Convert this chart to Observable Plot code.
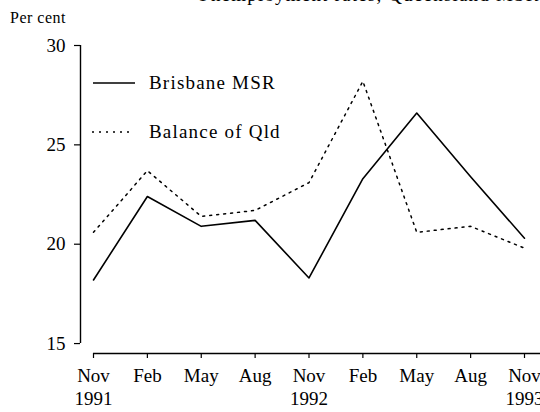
<!DOCTYPE html>
<html>
<head>
<meta charset="utf-8">
<script src="https://cdn.jsdelivr.net/npm/d3@7"></script>
<script src="https://cdn.jsdelivr.net/npm/@observablehq/plot@0.6"></script>
<style>
  html, body { margin: 0; padding: 0; background: #fff; }
  #wrap { position: relative; width: 540px; height: 412px; overflow: hidden; font-family: "Liberation Serif", Tinos, "Times New Roman", Times, serif; color: #000; }
  #title { position: absolute; top: -15px; left: 196px; font-size: 19px; letter-spacing: 1.2px; white-space: nowrap; line-height: 19px; }
  #unit { position: absolute; top: 9px; left: 10px; font-size: 16px; letter-spacing: 0.5px; line-height: 18px; }
  .leg { position: absolute; left: 149px; font-size: 19px; letter-spacing: 1.2px; line-height: 20px; white-space: nowrap; }
  #chart { position: absolute; left: 0; top: 0; }
</style>
</head>
<body>
<div id="wrap">
  <div id="chart"></div>
  <div id="title">Unemployment rates, Queensland MSRs</div>
  <div id="unit">Per cent</div>
  <svg id="legend" width="540" height="412" style="position:absolute;left:0;top:0">
    <line x1="93" x2="135" y1="83" y2="83" stroke="#000" stroke-width="1.6"/>
    <line x1="92" x2="134" y1="132" y2="132" stroke="#000" stroke-width="1.5" stroke-dasharray="2,5"/>
  </svg>
  <div class="leg" style="top:73px">Brisbane MSR</div>
  <div class="leg" style="top:122px">Balance of Qld</div>
</div>
<script>
const months = ["Nov", "Feb", "May", "Aug", "Nov", "Feb", "May", "Aug", "Nov"];
const years = ["1991", "", "", "", "1992", "", "", "", "1993"];
const brisbane = [18.2, 22.4, 20.9, 21.2, 18.3, 23.3, 26.6, 23.4, 20.3];
const balance = [20.6, 23.7, 21.4, 21.7, 23.1, 28.2, 20.6, 20.9, 19.8];
const yTicks = [15, 20, 25, 30];
const yAxisBase = 14.5;

const idx = d3.range(months.length);
const rows = idx.map(i => ({ i, brisbane: brisbane[i], balance: balance[i] }));

const font = '"Liberation Serif", Tinos, "Times New Roman", Times, serif';

const chart = Plot.plot({
  width: 540,
  height: 412,
  marginTop: 45,
  marginBottom: 59,
  marginLeft: 80,
  marginRight: 0,
  style: { fontFamily: font, fontSize: "19px", color: "#000", background: "transparent" },
  x: { domain: [0, 8], range: [93, 524] },
  y: { domain: [yAxisBase, 30] },
  marks: [
    Plot.ruleX([0], { y1: yTicks[0], y2: yTicks[yTicks.length - 1], dx: -13, stroke: "#000", strokeWidth: 1.4 }),
    Plot.axisY({ ticks: yTicks, tickSize: 6, tickPadding: 9, fontSize: 19, label: null, stroke: "#000", strokeWidth: 1.2 }),
    Plot.ruleY([yAxisBase], { x1: 0, x2: 8.6, stroke: "#000", strokeWidth: 1.4 }),
    Plot.axisX({
      ticks: idx, tickSize: 5, tickPadding: 7, fontSize: 19, label: null, lineHeight: 1.22,
      tickFormat: i => years[i] ? months[i] + "\n" + years[i] : months[i],
      stroke: "#000", strokeWidth: 1.2
    }),
    Plot.line(rows, { x: "i", y: "balance", stroke: "#000", strokeWidth: 1.5, strokeDasharray: "2,5" }),
    Plot.line(rows, { x: "i", y: "brisbane", stroke: "#000", strokeWidth: 1.6 })
  ]
});
document.getElementById("chart").appendChild(chart);
</script>
</body>
</html>
